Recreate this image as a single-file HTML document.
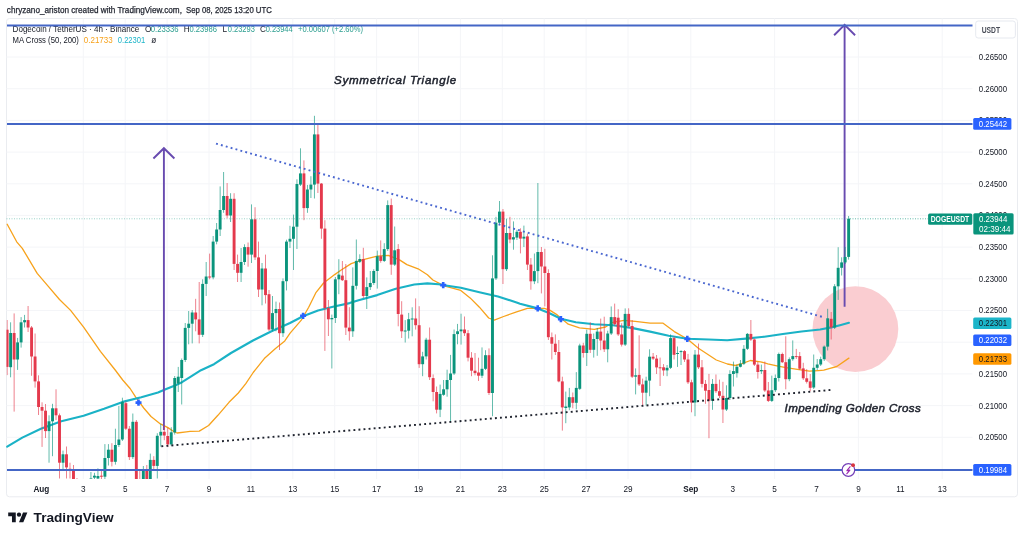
<!DOCTYPE html>
<html><head><meta charset="utf-8"><title>DOGEUSDT chart</title>
<style>
html,body{margin:0;padding:0;background:#fff;}
body{width:1024px;height:538px;overflow:hidden;}
svg{display:block;}
text{font-family:'Liberation Sans', Arial, sans-serif;}
</style></head><body>
<svg width="1024" height="538" viewBox="0 0 1024 538">
<rect x="0" y="0" width="1024" height="538" fill="#ffffff"/>

<text x="6.8" y="12.9" font-size="8.7" fill="#1e222d" stroke="#1e222d" stroke-width="0.25" lengthAdjust="spacingAndGlyphs" textLength="175.1">chryzano_ariston created with TradingView.com,</text>
<text x="186.0" y="12.9" font-size="8.7" fill="#1e222d" stroke="#1e222d" stroke-width="0.25" lengthAdjust="spacingAndGlyphs" textLength="85.8">Sep 08, 2025 13:20 UTC</text>
<rect x="6.5" y="18.5" width="1011" height="478.3" rx="3" fill="none" stroke="#eaecf0" stroke-width="1"/>
<defs><clipPath id="plot"><rect x="6.5" y="18.5" width="966.0" height="460.5"/></clipPath></defs>
<line x1="83.3" y1="18.5" x2="83.3" y2="479.0" stroke="#f4f5f8" stroke-width="1"/>
<line x1="125.2" y1="18.5" x2="125.2" y2="479.0" stroke="#f4f5f8" stroke-width="1"/>
<line x1="167.1" y1="18.5" x2="167.1" y2="479.0" stroke="#f4f5f8" stroke-width="1"/>
<line x1="209.0" y1="18.5" x2="209.0" y2="479.0" stroke="#f4f5f8" stroke-width="1"/>
<line x1="250.9" y1="18.5" x2="250.9" y2="479.0" stroke="#f4f5f8" stroke-width="1"/>
<line x1="292.8" y1="18.5" x2="292.8" y2="479.0" stroke="#f4f5f8" stroke-width="1"/>
<line x1="334.7" y1="18.5" x2="334.7" y2="479.0" stroke="#f4f5f8" stroke-width="1"/>
<line x1="376.6" y1="18.5" x2="376.6" y2="479.0" stroke="#f4f5f8" stroke-width="1"/>
<line x1="418.5" y1="18.5" x2="418.5" y2="479.0" stroke="#f4f5f8" stroke-width="1"/>
<line x1="460.4" y1="18.5" x2="460.4" y2="479.0" stroke="#f4f5f8" stroke-width="1"/>
<line x1="502.3" y1="18.5" x2="502.3" y2="479.0" stroke="#f4f5f8" stroke-width="1"/>
<line x1="544.2" y1="18.5" x2="544.2" y2="479.0" stroke="#f4f5f8" stroke-width="1"/>
<line x1="586.1" y1="18.5" x2="586.1" y2="479.0" stroke="#f4f5f8" stroke-width="1"/>
<line x1="628.0" y1="18.5" x2="628.0" y2="479.0" stroke="#f4f5f8" stroke-width="1"/>
<line x1="690.8" y1="18.5" x2="690.8" y2="479.0" stroke="#f4f5f8" stroke-width="1"/>
<line x1="774.6" y1="18.5" x2="774.6" y2="479.0" stroke="#f4f5f8" stroke-width="1"/>
<line x1="858.4" y1="18.5" x2="858.4" y2="479.0" stroke="#f4f5f8" stroke-width="1"/>
<line x1="942.2" y1="18.5" x2="942.2" y2="479.0" stroke="#f4f5f8" stroke-width="1"/>
<line x1="6.5" y1="437.3" x2="972.5" y2="437.3" stroke="#f4f5f8" stroke-width="1"/>
<line x1="6.5" y1="405.6" x2="972.5" y2="405.6" stroke="#f4f5f8" stroke-width="1"/>
<line x1="6.5" y1="373.9" x2="972.5" y2="373.9" stroke="#f4f5f8" stroke-width="1"/>
<line x1="6.5" y1="342.2" x2="972.5" y2="342.2" stroke="#f4f5f8" stroke-width="1"/>
<line x1="6.5" y1="310.5" x2="972.5" y2="310.5" stroke="#f4f5f8" stroke-width="1"/>
<line x1="6.5" y1="278.8" x2="972.5" y2="278.8" stroke="#f4f5f8" stroke-width="1"/>
<line x1="6.5" y1="247.1" x2="972.5" y2="247.1" stroke="#f4f5f8" stroke-width="1"/>
<line x1="6.5" y1="215.4" x2="972.5" y2="215.4" stroke="#f4f5f8" stroke-width="1"/>
<line x1="6.5" y1="183.8" x2="972.5" y2="183.8" stroke="#f4f5f8" stroke-width="1"/>
<line x1="6.5" y1="152.1" x2="972.5" y2="152.1" stroke="#f4f5f8" stroke-width="1"/>
<line x1="6.5" y1="120.4" x2="972.5" y2="120.4" stroke="#f4f5f8" stroke-width="1"/>
<line x1="6.5" y1="88.7" x2="972.5" y2="88.7" stroke="#f4f5f8" stroke-width="1"/>
<line x1="6.5" y1="57.0" x2="972.5" y2="57.0" stroke="#f4f5f8" stroke-width="1"/>
<circle cx="855.4" cy="329.1" r="42.9" fill="#facdd1"/>
<polyline points="7.2,224.3 16.7,241.8 22.3,248.3 37.2,273.4 48.3,286.4 59.5,299.5 70.6,310.4 83.6,327.2 100.4,351.3 115.2,370.0 122.7,380.0 130.1,388.5 135.7,397.2 143.7,408.0 151.0,416.5 160.4,423.9 167.9,427.6 174.4,432.0 177.1,433.0 186.4,431.8 190.0,431.3 199.3,431.1 208.6,425.5 217.9,415.3 229.0,402.3 238.3,393.0 245.8,383.7 253.2,372.5 264.3,358.6 275.5,348.4 284.8,340.9 290.1,333.2 301.3,320.2 308.7,307.2 316.1,292.3 323.6,283.0 334.7,274.6 341.2,270.0 351.2,263.6 362.3,259.9 377.2,256.2 388.3,255.3 399.5,259.9 406.9,264.6 418.1,268.8 427.4,274.8 432.9,280.0 444.1,285.8 460.8,290.4 470.1,297.9 479.4,307.2 488.7,318.0 494.3,320.2 503.6,316.5 516.6,311.8 527.4,308.4 544.2,308.4 549.7,310.1 557.2,314.9 568.3,324.2 579.5,327.9 594.3,329.4 605.5,327.0 612.9,322.3 624.1,320.4 635.2,321.4 650.1,323.2 663.1,323.2 674.3,331.6 687.3,339.0 698.4,348.3 704.9,352.5 716.3,360.0 727.4,364.0 735.3,365.5 742.0,363.7 750.4,360.5 760.6,361.8 767.8,363.8 776.9,365.8 786.0,367.7 799.0,369.7 809.4,371.2 818.5,370.6 823.8,370.2 830.0,368.4 836.8,366.5 848.9,358.1" fill="none" stroke="#f7a21b" stroke-width="1.3" stroke-linejoin="round" stroke-linecap="round"/>
<polyline points="7.2,446.7 22.3,437.6 40.9,428.7 61.3,421.3 83.6,415.7 104.1,408.8 122.7,401.9 141.3,397.2 158.0,392.5 165.0,389.6 175.0,385.6 182.0,382.2 190.0,377.2 201.0,370.2 214.0,364.2 231.0,353.0 253.0,340.5 271.5,331.3 290.0,323.0 303.0,316.3 318.0,310.5 333.0,306.8 349.6,303.1 358.6,300.2 377.2,295.1 395.8,288.8 414.3,284.5 427.4,283.4 438.5,284.3 444.1,285.2 460.8,287.7 479.4,292.3 498.0,296.5 516.6,302.5 520.0,303.7 537.7,308.4 549.0,313.0 560.9,318.8 575.8,322.3 594.3,324.2 612.9,325.3 631.5,327.9 650.1,331.6 668.7,335.7 687.3,338.8 708.6,339.5 727.2,340.2 745.8,338.6 764.3,336.7 782.9,334.0 801.5,331.5 820.1,329.5 831.3,327.4 840.0,325.2 848.9,322.8" fill="none" stroke="#1ab2c6" stroke-width="2.15" stroke-linejoin="round" stroke-linecap="round"/>
<path d="M135.5 402.6H141.5M138.5 399.5V405.7" stroke="#2962ff" stroke-width="2.6" fill="none"/>
<path d="M300.1 315.8H306.1M303.1 312.7V318.9" stroke="#2962ff" stroke-width="2.6" fill="none"/>
<path d="M440.2 285.1H446.2M443.2 282.0V288.2" stroke="#2962ff" stroke-width="2.6" fill="none"/>
<path d="M534.7 308.4H540.7M537.7 305.3V311.5" stroke="#2962ff" stroke-width="2.6" fill="none"/>
<path d="M557.9 319.2H563.9M560.9 316.1V322.3" stroke="#2962ff" stroke-width="2.6" fill="none"/>
<path d="M684.3 338.9H690.3M687.3 335.8V342.0" stroke="#2962ff" stroke-width="2.6" fill="none"/>
<path d="M163.9 430.0 V148.7 M153.4 158.5 L163.9 148.2 L174.4 158.5" stroke="#684bb0" stroke-width="1.9" fill="none" stroke-linejoin="miter"/>
<path d="M844.6 306.8 V25.4 M834.1 35.2 L844.6 24.9 L855.1 35.2" stroke="#684bb0" stroke-width="1.9" fill="none" stroke-linejoin="miter"/>
<g clip-path="url(#plot)">
<rect x="6.68" y="320.0" width="0.9" height="55.1" fill="#e4394c" fill-opacity="0.7"/>
<rect x="5.68" y="329.7" width="2.9" height="37.2" fill="#e4394c"/>
<rect x="10.17" y="322.3" width="0.9" height="55.0" fill="#0a947c" fill-opacity="0.7"/>
<rect x="9.17" y="333.0" width="2.9" height="34.2" fill="#0a947c"/>
<rect x="13.67" y="313.4" width="0.9" height="98.2" fill="#e4394c" fill-opacity="0.7"/>
<rect x="12.67" y="333.0" width="2.9" height="26.5" fill="#e4394c"/>
<rect x="17.16" y="337.9" width="0.9" height="32.0" fill="#0a947c" fill-opacity="0.7"/>
<rect x="16.16" y="342.4" width="2.9" height="17.1" fill="#0a947c"/>
<rect x="20.65" y="317.1" width="0.9" height="30.5" fill="#0a947c" fill-opacity="0.7"/>
<rect x="19.65" y="322.3" width="2.9" height="20.1" fill="#0a947c"/>
<rect x="24.14" y="314.9" width="0.9" height="12.6" fill="#0a947c" fill-opacity="0.7"/>
<rect x="23.14" y="320.1" width="2.9" height="2.2" fill="#0a947c"/>
<rect x="27.63" y="306.0" width="0.9" height="26.0" fill="#e4394c" fill-opacity="0.7"/>
<rect x="26.63" y="320.1" width="2.9" height="7.4" fill="#e4394c"/>
<rect x="31.12" y="326.0" width="0.9" height="49.8" fill="#e4394c" fill-opacity="0.7"/>
<rect x="30.12" y="327.5" width="2.9" height="29.0" fill="#e4394c"/>
<rect x="34.62" y="333.5" width="0.9" height="54.1" fill="#e4394c" fill-opacity="0.7"/>
<rect x="33.62" y="356.5" width="2.9" height="24.9" fill="#e4394c"/>
<rect x="38.11" y="375.3" width="0.9" height="39.7" fill="#e4394c" fill-opacity="0.7"/>
<rect x="37.11" y="381.4" width="2.9" height="25.6" fill="#e4394c"/>
<rect x="41.60" y="402.3" width="0.9" height="44.6" fill="#e4394c" fill-opacity="0.7"/>
<rect x="40.60" y="407.0" width="2.9" height="3.7" fill="#e4394c"/>
<rect x="45.09" y="404.0" width="0.9" height="34.0" fill="#e4394c" fill-opacity="0.7"/>
<rect x="44.09" y="410.7" width="2.9" height="20.4" fill="#e4394c"/>
<rect x="48.58" y="415.3" width="0.9" height="47.4" fill="#0a947c" fill-opacity="0.7"/>
<rect x="47.58" y="421.3" width="2.9" height="9.8" fill="#0a947c"/>
<rect x="52.08" y="403.8" width="0.9" height="52.4" fill="#0a947c" fill-opacity="0.7"/>
<rect x="51.08" y="408.3" width="2.9" height="13.0" fill="#0a947c"/>
<rect x="55.57" y="389.3" width="0.9" height="30.7" fill="#e4394c" fill-opacity="0.7"/>
<rect x="54.57" y="408.3" width="2.9" height="7.0" fill="#e4394c"/>
<rect x="59.06" y="413.5" width="0.9" height="65.0" fill="#e4394c" fill-opacity="0.7"/>
<rect x="58.06" y="415.3" width="2.9" height="47.4" fill="#e4394c"/>
<rect x="62.55" y="450.6" width="0.9" height="19.4" fill="#0a947c" fill-opacity="0.7"/>
<rect x="61.55" y="454.3" width="2.9" height="8.4" fill="#0a947c"/>
<rect x="66.04" y="446.5" width="0.9" height="32.0" fill="#e4394c" fill-opacity="0.7"/>
<rect x="65.04" y="454.3" width="2.9" height="13.1" fill="#e4394c"/>
<rect x="69.53" y="462.7" width="0.9" height="15.8" fill="#e4394c" fill-opacity="0.7"/>
<rect x="68.53" y="468.8" width="2.9" height="2.2" fill="#e4394c"/>
<rect x="73.03" y="465.0" width="0.9" height="25.0" fill="#e4394c" fill-opacity="0.7"/>
<rect x="72.03" y="470.1" width="2.9" height="14.9" fill="#e4394c"/>
<rect x="76.52" y="478.0" width="0.9" height="22.0" fill="#e4394c" fill-opacity="0.7"/>
<rect x="75.52" y="485.0" width="2.9" height="10.0" fill="#e4394c"/>
<rect x="80.01" y="482.0" width="0.9" height="18.0" fill="#0a947c" fill-opacity="0.7"/>
<rect x="79.01" y="488.0" width="2.9" height="7.0" fill="#0a947c"/>
<rect x="83.50" y="484.0" width="0.9" height="21.0" fill="#e4394c" fill-opacity="0.7"/>
<rect x="82.50" y="488.0" width="2.9" height="10.0" fill="#e4394c"/>
<rect x="86.99" y="481.0" width="0.9" height="24.0" fill="#0a947c" fill-opacity="0.7"/>
<rect x="85.99" y="485.0" width="2.9" height="13.0" fill="#0a947c"/>
<rect x="90.48" y="472.0" width="0.9" height="18.0" fill="#0a947c" fill-opacity="0.7"/>
<rect x="89.48" y="478.5" width="2.9" height="6.5" fill="#0a947c"/>
<rect x="93.98" y="472.8" width="0.9" height="7.2" fill="#0a947c" fill-opacity="0.7"/>
<rect x="92.98" y="475.7" width="2.9" height="1.9" fill="#0a947c"/>
<rect x="97.47" y="468.3" width="0.9" height="11.7" fill="#0a947c" fill-opacity="0.7"/>
<rect x="96.47" y="476.0" width="2.9" height="2.5" fill="#0a947c"/>
<rect x="100.96" y="469.2" width="0.9" height="10.8" fill="#e4394c" fill-opacity="0.7"/>
<rect x="99.96" y="475.7" width="2.9" height="1.0" fill="#e4394c"/>
<rect x="104.45" y="444.1" width="0.9" height="35.9" fill="#0a947c" fill-opacity="0.7"/>
<rect x="103.45" y="458.0" width="2.9" height="18.7" fill="#0a947c"/>
<rect x="107.94" y="444.1" width="0.9" height="21.4" fill="#0a947c" fill-opacity="0.7"/>
<rect x="106.94" y="449.7" width="2.9" height="8.3" fill="#0a947c"/>
<rect x="111.43" y="443.2" width="0.9" height="23.2" fill="#e4394c" fill-opacity="0.7"/>
<rect x="110.43" y="449.7" width="2.9" height="12.1" fill="#e4394c"/>
<rect x="114.93" y="428.7" width="0.9" height="35.9" fill="#0a947c" fill-opacity="0.7"/>
<rect x="113.93" y="445.0" width="2.9" height="16.8" fill="#0a947c"/>
<rect x="118.42" y="406.0" width="0.9" height="41.0" fill="#0a947c" fill-opacity="0.7"/>
<rect x="117.42" y="439.5" width="2.9" height="5.5" fill="#0a947c"/>
<rect x="121.91" y="397.7" width="0.9" height="43.3" fill="#0a947c" fill-opacity="0.7"/>
<rect x="120.91" y="401.9" width="2.9" height="37.6" fill="#0a947c"/>
<rect x="125.40" y="401.4" width="0.9" height="28.6" fill="#e4394c" fill-opacity="0.7"/>
<rect x="124.40" y="403.2" width="2.9" height="25.5" fill="#e4394c"/>
<rect x="128.89" y="426.0" width="0.9" height="34.0" fill="#e4394c" fill-opacity="0.7"/>
<rect x="127.89" y="428.7" width="2.9" height="28.4" fill="#e4394c"/>
<rect x="132.38" y="413.5" width="0.9" height="45.5" fill="#0a947c" fill-opacity="0.7"/>
<rect x="131.38" y="421.8" width="2.9" height="35.3" fill="#0a947c"/>
<rect x="135.88" y="420.0" width="0.9" height="70.0" fill="#e4394c" fill-opacity="0.7"/>
<rect x="134.88" y="421.8" width="2.9" height="60.2" fill="#e4394c"/>
<rect x="139.37" y="469.2" width="0.9" height="25.8" fill="#e4394c" fill-opacity="0.7"/>
<rect x="138.37" y="482.0" width="2.9" height="8.0" fill="#e4394c"/>
<rect x="142.86" y="466.0" width="0.9" height="19.0" fill="#0a947c" fill-opacity="0.7"/>
<rect x="141.86" y="469.2" width="2.9" height="12.8" fill="#0a947c"/>
<rect x="146.35" y="465.0" width="0.9" height="20.0" fill="#e4394c" fill-opacity="0.7"/>
<rect x="145.35" y="470.1" width="2.9" height="9.9" fill="#e4394c"/>
<rect x="149.84" y="453.6" width="0.9" height="28.4" fill="#0a947c" fill-opacity="0.7"/>
<rect x="148.84" y="459.9" width="2.9" height="20.1" fill="#0a947c"/>
<rect x="153.33" y="456.2" width="0.9" height="13.8" fill="#e4394c" fill-opacity="0.7"/>
<rect x="152.33" y="459.9" width="2.9" height="6.0" fill="#e4394c"/>
<rect x="156.83" y="433.2" width="0.9" height="45.3" fill="#0a947c" fill-opacity="0.7"/>
<rect x="155.83" y="435.8" width="2.9" height="30.1" fill="#0a947c"/>
<rect x="160.32" y="423.9" width="0.9" height="22.8" fill="#0a947c" fill-opacity="0.7"/>
<rect x="159.32" y="431.8" width="2.9" height="3.7" fill="#0a947c"/>
<rect x="163.81" y="425.8" width="0.9" height="14.4" fill="#e4394c" fill-opacity="0.7"/>
<rect x="162.81" y="431.8" width="2.9" height="3.7" fill="#e4394c"/>
<rect x="167.30" y="427.6" width="0.9" height="19.5" fill="#e4394c" fill-opacity="0.7"/>
<rect x="166.30" y="436.0" width="2.9" height="8.4" fill="#e4394c"/>
<rect x="170.79" y="427.2" width="0.9" height="18.8" fill="#0a947c" fill-opacity="0.7"/>
<rect x="169.79" y="432.3" width="2.9" height="12.1" fill="#0a947c"/>
<rect x="174.28" y="376.0" width="0.9" height="58.6" fill="#0a947c" fill-opacity="0.7"/>
<rect x="173.28" y="378.0" width="2.9" height="54.4" fill="#0a947c"/>
<rect x="177.78" y="366.9" width="0.9" height="25.1" fill="#0a947c" fill-opacity="0.7"/>
<rect x="176.78" y="376.7" width="2.9" height="6.9" fill="#0a947c"/>
<rect x="181.27" y="358.5" width="0.9" height="46.0" fill="#0a947c" fill-opacity="0.7"/>
<rect x="180.27" y="360.0" width="2.9" height="18.0" fill="#0a947c"/>
<rect x="184.76" y="323.0" width="0.9" height="39.0" fill="#0a947c" fill-opacity="0.7"/>
<rect x="183.76" y="327.9" width="2.9" height="32.1" fill="#0a947c"/>
<rect x="188.25" y="311.0" width="0.9" height="33.3" fill="#0a947c" fill-opacity="0.7"/>
<rect x="187.25" y="323.7" width="2.9" height="4.2" fill="#0a947c"/>
<rect x="191.74" y="310.0" width="0.9" height="33.4" fill="#0a947c" fill-opacity="0.7"/>
<rect x="190.74" y="312.5" width="2.9" height="11.2" fill="#0a947c"/>
<rect x="195.23" y="298.8" width="0.9" height="32.5" fill="#e4394c" fill-opacity="0.7"/>
<rect x="194.23" y="312.5" width="2.9" height="6.9" fill="#e4394c"/>
<rect x="198.73" y="282.0" width="0.9" height="61.4" fill="#e4394c" fill-opacity="0.7"/>
<rect x="197.73" y="319.4" width="2.9" height="15.4" fill="#e4394c"/>
<rect x="202.22" y="279.3" width="0.9" height="57.7" fill="#0a947c" fill-opacity="0.7"/>
<rect x="201.22" y="283.9" width="2.9" height="50.9" fill="#0a947c"/>
<rect x="205.71" y="262.0" width="0.9" height="34.0" fill="#0a947c" fill-opacity="0.7"/>
<rect x="204.71" y="276.5" width="2.9" height="7.4" fill="#0a947c"/>
<rect x="209.20" y="253.6" width="0.9" height="25.7" fill="#e4394c" fill-opacity="0.7"/>
<rect x="208.20" y="276.5" width="2.9" height="1.0" fill="#e4394c"/>
<rect x="212.69" y="236.0" width="0.9" height="43.3" fill="#0a947c" fill-opacity="0.7"/>
<rect x="211.69" y="241.6" width="2.9" height="35.8" fill="#0a947c"/>
<rect x="216.19" y="223.0" width="0.9" height="21.3" fill="#0a947c" fill-opacity="0.7"/>
<rect x="215.19" y="229.5" width="2.9" height="12.1" fill="#0a947c"/>
<rect x="219.68" y="186.4" width="0.9" height="49.6" fill="#0a947c" fill-opacity="0.7"/>
<rect x="218.68" y="210.0" width="2.9" height="19.5" fill="#0a947c"/>
<rect x="223.17" y="172.0" width="0.9" height="40.8" fill="#0a947c" fill-opacity="0.7"/>
<rect x="222.17" y="196.0" width="2.9" height="14.0" fill="#0a947c"/>
<rect x="226.66" y="183.0" width="0.9" height="35.3" fill="#e4394c" fill-opacity="0.7"/>
<rect x="225.66" y="196.0" width="2.9" height="19.5" fill="#e4394c"/>
<rect x="230.15" y="193.2" width="0.9" height="28.8" fill="#0a947c" fill-opacity="0.7"/>
<rect x="229.15" y="198.8" width="2.9" height="16.7" fill="#0a947c"/>
<rect x="233.64" y="193.2" width="0.9" height="76.8" fill="#e4394c" fill-opacity="0.7"/>
<rect x="232.64" y="198.8" width="2.9" height="65.1" fill="#e4394c"/>
<rect x="237.14" y="254.6" width="0.9" height="27.4" fill="#e4394c" fill-opacity="0.7"/>
<rect x="236.14" y="263.9" width="2.9" height="8.9" fill="#e4394c"/>
<rect x="240.63" y="248.0" width="0.9" height="34.0" fill="#0a947c" fill-opacity="0.7"/>
<rect x="239.63" y="262.0" width="2.9" height="10.8" fill="#0a947c"/>
<rect x="244.12" y="244.3" width="0.9" height="20.7" fill="#0a947c" fill-opacity="0.7"/>
<rect x="243.12" y="247.1" width="2.9" height="14.9" fill="#0a947c"/>
<rect x="247.61" y="242.5" width="0.9" height="24.2" fill="#e4394c" fill-opacity="0.7"/>
<rect x="246.61" y="247.1" width="2.9" height="7.5" fill="#e4394c"/>
<rect x="251.10" y="204.4" width="0.9" height="58.6" fill="#0a947c" fill-opacity="0.7"/>
<rect x="250.10" y="219.3" width="2.9" height="35.3" fill="#0a947c"/>
<rect x="254.59" y="207.2" width="0.9" height="52.8" fill="#e4394c" fill-opacity="0.7"/>
<rect x="253.59" y="219.3" width="2.9" height="38.1" fill="#e4394c"/>
<rect x="258.09" y="241.6" width="0.9" height="55.4" fill="#e4394c" fill-opacity="0.7"/>
<rect x="257.09" y="257.4" width="2.9" height="32.1" fill="#e4394c"/>
<rect x="261.58" y="263.0" width="0.9" height="42.3" fill="#0a947c" fill-opacity="0.7"/>
<rect x="260.58" y="268.5" width="2.9" height="21.0" fill="#0a947c"/>
<rect x="265.07" y="254.6" width="0.9" height="48.9" fill="#e4394c" fill-opacity="0.7"/>
<rect x="264.07" y="268.5" width="2.9" height="26.6" fill="#e4394c"/>
<rect x="268.56" y="290.0" width="0.9" height="41.0" fill="#e4394c" fill-opacity="0.7"/>
<rect x="267.56" y="294.2" width="2.9" height="35.3" fill="#e4394c"/>
<rect x="272.05" y="296.0" width="0.9" height="35.3" fill="#0a947c" fill-opacity="0.7"/>
<rect x="271.05" y="313.1" width="2.9" height="16.4" fill="#0a947c"/>
<rect x="275.54" y="301.6" width="0.9" height="29.7" fill="#0a947c" fill-opacity="0.7"/>
<rect x="274.54" y="309.0" width="2.9" height="4.1" fill="#0a947c"/>
<rect x="279.04" y="302.5" width="0.9" height="47.5" fill="#e4394c" fill-opacity="0.7"/>
<rect x="278.04" y="309.0" width="2.9" height="24.2" fill="#e4394c"/>
<rect x="282.53" y="278.4" width="0.9" height="58.5" fill="#0a947c" fill-opacity="0.7"/>
<rect x="281.53" y="281.2" width="2.9" height="52.0" fill="#0a947c"/>
<rect x="286.02" y="239.7" width="0.9" height="50.7" fill="#0a947c" fill-opacity="0.7"/>
<rect x="285.02" y="241.6" width="2.9" height="39.6" fill="#0a947c"/>
<rect x="289.51" y="225.8" width="0.9" height="22.2" fill="#0a947c" fill-opacity="0.7"/>
<rect x="288.51" y="238.8" width="2.9" height="2.8" fill="#0a947c"/>
<rect x="293.00" y="214.6" width="0.9" height="55.4" fill="#0a947c" fill-opacity="0.7"/>
<rect x="292.00" y="226.7" width="2.9" height="12.1" fill="#0a947c"/>
<rect x="296.49" y="179.3" width="0.9" height="69.7" fill="#0a947c" fill-opacity="0.7"/>
<rect x="295.49" y="184.0" width="2.9" height="42.7" fill="#0a947c"/>
<rect x="299.99" y="148.3" width="0.9" height="37.7" fill="#0a947c" fill-opacity="0.7"/>
<rect x="298.99" y="173.4" width="2.9" height="11.2" fill="#0a947c"/>
<rect x="303.48" y="160.4" width="0.9" height="59.8" fill="#e4394c" fill-opacity="0.7"/>
<rect x="302.48" y="173.4" width="2.9" height="34.7" fill="#e4394c"/>
<rect x="306.97" y="184.9" width="0.9" height="27.9" fill="#0a947c" fill-opacity="0.7"/>
<rect x="305.97" y="189.5" width="2.9" height="18.6" fill="#0a947c"/>
<rect x="310.46" y="176.2" width="0.9" height="21.8" fill="#0a947c" fill-opacity="0.7"/>
<rect x="309.46" y="184.6" width="2.9" height="4.9" fill="#0a947c"/>
<rect x="313.95" y="115.8" width="0.9" height="82.7" fill="#0a947c" fill-opacity="0.7"/>
<rect x="312.95" y="134.4" width="2.9" height="50.2" fill="#0a947c"/>
<rect x="317.44" y="123.2" width="0.9" height="69.8" fill="#e4394c" fill-opacity="0.7"/>
<rect x="316.44" y="134.4" width="2.9" height="49.2" fill="#e4394c"/>
<rect x="320.94" y="183.0" width="0.9" height="55.8" fill="#e4394c" fill-opacity="0.7"/>
<rect x="319.94" y="183.6" width="2.9" height="45.0" fill="#e4394c"/>
<rect x="324.43" y="220.2" width="0.9" height="130.7" fill="#e4394c" fill-opacity="0.7"/>
<rect x="323.43" y="228.6" width="2.9" height="79.5" fill="#e4394c"/>
<rect x="327.92" y="300.0" width="0.9" height="36.0" fill="#e4394c" fill-opacity="0.7"/>
<rect x="326.92" y="308.1" width="2.9" height="11.2" fill="#e4394c"/>
<rect x="331.41" y="314.6" width="0.9" height="53.9" fill="#0a947c" fill-opacity="0.7"/>
<rect x="330.41" y="318.0" width="2.9" height="1.3" fill="#0a947c"/>
<rect x="334.90" y="277.0" width="0.9" height="46.0" fill="#0a947c" fill-opacity="0.7"/>
<rect x="333.90" y="279.3" width="2.9" height="38.7" fill="#0a947c"/>
<rect x="338.39" y="259.2" width="0.9" height="35.0" fill="#0a947c" fill-opacity="0.7"/>
<rect x="337.39" y="274.6" width="2.9" height="4.7" fill="#0a947c"/>
<rect x="341.89" y="261.0" width="0.9" height="20.0" fill="#e4394c" fill-opacity="0.7"/>
<rect x="340.89" y="275.6" width="2.9" height="4.6" fill="#e4394c"/>
<rect x="345.38" y="264.0" width="0.9" height="71.0" fill="#e4394c" fill-opacity="0.7"/>
<rect x="344.38" y="280.2" width="2.9" height="47.4" fill="#e4394c"/>
<rect x="348.87" y="307.2" width="0.9" height="33.4" fill="#e4394c" fill-opacity="0.7"/>
<rect x="347.87" y="327.6" width="2.9" height="3.7" fill="#e4394c"/>
<rect x="352.36" y="267.4" width="0.9" height="69.5" fill="#0a947c" fill-opacity="0.7"/>
<rect x="351.36" y="285.8" width="2.9" height="45.5" fill="#0a947c"/>
<rect x="355.85" y="239.5" width="0.9" height="50.0" fill="#0a947c" fill-opacity="0.7"/>
<rect x="354.85" y="260.9" width="2.9" height="24.9" fill="#0a947c"/>
<rect x="359.34" y="254.3" width="0.9" height="8.7" fill="#0a947c" fill-opacity="0.7"/>
<rect x="358.34" y="259.0" width="2.9" height="2.8" fill="#0a947c"/>
<rect x="362.84" y="247.8" width="0.9" height="50.2" fill="#e4394c" fill-opacity="0.7"/>
<rect x="361.84" y="259.0" width="2.9" height="37.0" fill="#e4394c"/>
<rect x="366.33" y="277.4" width="0.9" height="31.6" fill="#0a947c" fill-opacity="0.7"/>
<rect x="365.33" y="287.1" width="2.9" height="8.9" fill="#0a947c"/>
<rect x="369.82" y="271.0" width="0.9" height="19.0" fill="#0a947c" fill-opacity="0.7"/>
<rect x="368.82" y="283.0" width="2.9" height="4.1" fill="#0a947c"/>
<rect x="373.31" y="269.2" width="0.9" height="15.7" fill="#0a947c" fill-opacity="0.7"/>
<rect x="372.31" y="271.0" width="2.9" height="12.0" fill="#0a947c"/>
<rect x="376.80" y="250.6" width="0.9" height="38.0" fill="#0a947c" fill-opacity="0.7"/>
<rect x="375.80" y="256.2" width="2.9" height="14.8" fill="#0a947c"/>
<rect x="380.29" y="240.4" width="0.9" height="22.3" fill="#e4394c" fill-opacity="0.7"/>
<rect x="379.29" y="256.2" width="2.9" height="4.7" fill="#e4394c"/>
<rect x="383.79" y="243.2" width="0.9" height="18.8" fill="#0a947c" fill-opacity="0.7"/>
<rect x="382.79" y="249.1" width="2.9" height="11.8" fill="#0a947c"/>
<rect x="387.28" y="200.4" width="0.9" height="50.6" fill="#0a947c" fill-opacity="0.7"/>
<rect x="386.28" y="205.1" width="2.9" height="44.0" fill="#0a947c"/>
<rect x="390.77" y="198.6" width="0.9" height="76.2" fill="#e4394c" fill-opacity="0.7"/>
<rect x="389.77" y="205.1" width="2.9" height="59.5" fill="#e4394c"/>
<rect x="394.26" y="226.5" width="0.9" height="39.5" fill="#0a947c" fill-opacity="0.7"/>
<rect x="393.26" y="250.3" width="2.9" height="14.3" fill="#0a947c"/>
<rect x="397.75" y="244.1" width="0.9" height="82.2" fill="#e4394c" fill-opacity="0.7"/>
<rect x="396.75" y="249.1" width="2.9" height="64.9" fill="#e4394c"/>
<rect x="401.25" y="301.2" width="0.9" height="36.8" fill="#e4394c" fill-opacity="0.7"/>
<rect x="400.25" y="314.6" width="2.9" height="16.7" fill="#e4394c"/>
<rect x="404.74" y="320.1" width="0.9" height="22.4" fill="#0a947c" fill-opacity="0.7"/>
<rect x="403.74" y="330.5" width="2.9" height="1.0" fill="#0a947c"/>
<rect x="408.23" y="312.9" width="0.9" height="25.6" fill="#0a947c" fill-opacity="0.7"/>
<rect x="407.23" y="319.2" width="2.9" height="11.5" fill="#0a947c"/>
<rect x="411.72" y="307.3" width="0.9" height="29.0" fill="#0a947c" fill-opacity="0.7"/>
<rect x="410.72" y="318.5" width="2.9" height="1.0" fill="#0a947c"/>
<rect x="415.21" y="298.4" width="0.9" height="31.2" fill="#e4394c" fill-opacity="0.7"/>
<rect x="414.21" y="318.5" width="2.9" height="6.7" fill="#e4394c"/>
<rect x="418.70" y="306.2" width="0.9" height="61.7" fill="#e4394c" fill-opacity="0.7"/>
<rect x="417.70" y="325.2" width="2.9" height="39.0" fill="#e4394c"/>
<rect x="422.20" y="351.8" width="0.9" height="24.4" fill="#0a947c" fill-opacity="0.7"/>
<rect x="421.20" y="356.4" width="2.9" height="7.8" fill="#0a947c"/>
<rect x="425.69" y="337.8" width="0.9" height="21.7" fill="#0a947c" fill-opacity="0.7"/>
<rect x="424.69" y="339.7" width="2.9" height="16.7" fill="#0a947c"/>
<rect x="429.18" y="327.5" width="0.9" height="52.5" fill="#e4394c" fill-opacity="0.7"/>
<rect x="428.18" y="339.7" width="2.9" height="37.5" fill="#e4394c"/>
<rect x="432.67" y="374.4" width="0.9" height="26.9" fill="#e4394c" fill-opacity="0.7"/>
<rect x="431.67" y="378.1" width="2.9" height="13.9" fill="#e4394c"/>
<rect x="436.16" y="386.5" width="0.9" height="26.9" fill="#e4394c" fill-opacity="0.7"/>
<rect x="435.16" y="392.0" width="2.9" height="17.7" fill="#e4394c"/>
<rect x="439.65" y="384.6" width="0.9" height="32.5" fill="#0a947c" fill-opacity="0.7"/>
<rect x="438.65" y="393.9" width="2.9" height="15.8" fill="#0a947c"/>
<rect x="443.15" y="380.0" width="0.9" height="15.8" fill="#0a947c" fill-opacity="0.7"/>
<rect x="442.15" y="389.3" width="2.9" height="5.5" fill="#0a947c"/>
<rect x="446.64" y="369.7" width="0.9" height="27.0" fill="#0a947c" fill-opacity="0.7"/>
<rect x="445.64" y="380.0" width="2.9" height="9.3" fill="#0a947c"/>
<rect x="450.13" y="354.9" width="0.9" height="66.9" fill="#0a947c" fill-opacity="0.7"/>
<rect x="449.13" y="373.5" width="2.9" height="6.5" fill="#0a947c"/>
<rect x="453.62" y="329.5" width="0.9" height="45.5" fill="#0a947c" fill-opacity="0.7"/>
<rect x="452.62" y="334.1" width="2.9" height="39.4" fill="#0a947c"/>
<rect x="457.11" y="323.9" width="0.9" height="20.4" fill="#0a947c" fill-opacity="0.7"/>
<rect x="456.11" y="331.3" width="2.9" height="2.8" fill="#0a947c"/>
<rect x="460.60" y="313.7" width="0.9" height="30.9" fill="#0a947c" fill-opacity="0.7"/>
<rect x="459.60" y="329.5" width="2.9" height="1.8" fill="#0a947c"/>
<rect x="464.10" y="316.5" width="0.9" height="19.5" fill="#e4394c" fill-opacity="0.7"/>
<rect x="463.10" y="329.5" width="2.9" height="3.7" fill="#e4394c"/>
<rect x="467.59" y="330.0" width="0.9" height="31.4" fill="#e4394c" fill-opacity="0.7"/>
<rect x="466.59" y="333.2" width="2.9" height="24.5" fill="#e4394c"/>
<rect x="471.08" y="352.1" width="0.9" height="24.1" fill="#e4394c" fill-opacity="0.7"/>
<rect x="470.08" y="357.7" width="2.9" height="13.0" fill="#e4394c"/>
<rect x="474.57" y="353.0" width="0.9" height="22.3" fill="#e4394c" fill-opacity="0.7"/>
<rect x="473.57" y="370.7" width="2.9" height="2.4" fill="#e4394c"/>
<rect x="478.06" y="357.7" width="0.9" height="23.2" fill="#e4394c" fill-opacity="0.7"/>
<rect x="477.06" y="372.5" width="2.9" height="3.2" fill="#e4394c"/>
<rect x="481.55" y="347.4" width="0.9" height="30.6" fill="#0a947c" fill-opacity="0.7"/>
<rect x="480.55" y="368.8" width="2.9" height="6.9" fill="#0a947c"/>
<rect x="485.05" y="350.2" width="0.9" height="19.8" fill="#0a947c" fill-opacity="0.7"/>
<rect x="484.05" y="355.2" width="2.9" height="13.6" fill="#0a947c"/>
<rect x="488.54" y="348.4" width="0.9" height="46.6" fill="#e4394c" fill-opacity="0.7"/>
<rect x="487.54" y="355.2" width="2.9" height="37.8" fill="#e4394c"/>
<rect x="492.03" y="255.3" width="0.9" height="160.9" fill="#0a947c" fill-opacity="0.7"/>
<rect x="491.03" y="278.4" width="2.9" height="114.6" fill="#0a947c"/>
<rect x="495.52" y="216.8" width="0.9" height="63.2" fill="#0a947c" fill-opacity="0.7"/>
<rect x="494.52" y="222.7" width="2.9" height="55.7" fill="#0a947c"/>
<rect x="499.01" y="201.0" width="0.9" height="23.0" fill="#0a947c" fill-opacity="0.7"/>
<rect x="498.01" y="211.6" width="2.9" height="11.1" fill="#0a947c"/>
<rect x="502.50" y="209.0" width="0.9" height="75.0" fill="#e4394c" fill-opacity="0.7"/>
<rect x="501.50" y="211.6" width="2.9" height="57.6" fill="#e4394c"/>
<rect x="506.00" y="218.8" width="0.9" height="52.2" fill="#0a947c" fill-opacity="0.7"/>
<rect x="505.00" y="233.0" width="2.9" height="36.2" fill="#0a947c"/>
<rect x="509.49" y="216.8" width="0.9" height="26.4" fill="#e4394c" fill-opacity="0.7"/>
<rect x="508.49" y="233.0" width="2.9" height="6.5" fill="#e4394c"/>
<rect x="512.98" y="221.4" width="0.9" height="28.3" fill="#0a947c" fill-opacity="0.7"/>
<rect x="511.98" y="237.2" width="2.9" height="2.3" fill="#0a947c"/>
<rect x="516.47" y="229.8" width="0.9" height="10.2" fill="#0a947c" fill-opacity="0.7"/>
<rect x="515.47" y="231.8" width="2.9" height="5.8" fill="#0a947c"/>
<rect x="519.96" y="228.3" width="0.9" height="25.1" fill="#e4394c" fill-opacity="0.7"/>
<rect x="518.96" y="231.8" width="2.9" height="6.8" fill="#e4394c"/>
<rect x="523.45" y="225.6" width="0.9" height="21.4" fill="#0a947c" fill-opacity="0.7"/>
<rect x="522.45" y="236.7" width="2.9" height="1.9" fill="#0a947c"/>
<rect x="526.95" y="233.7" width="0.9" height="36.3" fill="#e4394c" fill-opacity="0.7"/>
<rect x="525.95" y="236.4" width="2.9" height="28.2" fill="#e4394c"/>
<rect x="530.44" y="258.1" width="0.9" height="31.6" fill="#e4394c" fill-opacity="0.7"/>
<rect x="529.44" y="264.6" width="2.9" height="16.7" fill="#e4394c"/>
<rect x="533.93" y="253.5" width="0.9" height="30.6" fill="#0a947c" fill-opacity="0.7"/>
<rect x="532.93" y="271.1" width="2.9" height="10.2" fill="#0a947c"/>
<rect x="537.42" y="183.0" width="0.9" height="100.2" fill="#0a947c" fill-opacity="0.7"/>
<rect x="536.42" y="252.0" width="2.9" height="19.1" fill="#0a947c"/>
<rect x="540.91" y="247.0" width="0.9" height="46.4" fill="#e4394c" fill-opacity="0.7"/>
<rect x="539.91" y="252.0" width="2.9" height="14.5" fill="#e4394c"/>
<rect x="544.40" y="248.8" width="0.9" height="57.6" fill="#e4394c" fill-opacity="0.7"/>
<rect x="543.40" y="266.5" width="2.9" height="6.5" fill="#e4394c"/>
<rect x="547.90" y="269.3" width="0.9" height="70.7" fill="#e4394c" fill-opacity="0.7"/>
<rect x="546.90" y="273.0" width="2.9" height="64.2" fill="#e4394c"/>
<rect x="551.39" y="332.5" width="0.9" height="27.0" fill="#e4394c" fill-opacity="0.7"/>
<rect x="550.39" y="337.2" width="2.9" height="6.5" fill="#e4394c"/>
<rect x="554.88" y="334.4" width="0.9" height="20.6" fill="#e4394c" fill-opacity="0.7"/>
<rect x="553.88" y="343.7" width="2.9" height="8.3" fill="#e4394c"/>
<rect x="558.37" y="340.0" width="0.9" height="42.3" fill="#e4394c" fill-opacity="0.7"/>
<rect x="557.37" y="352.0" width="2.9" height="29.4" fill="#e4394c"/>
<rect x="561.86" y="376.7" width="0.9" height="53.9" fill="#e4394c" fill-opacity="0.7"/>
<rect x="560.86" y="381.4" width="2.9" height="26.0" fill="#e4394c"/>
<rect x="565.35" y="391.6" width="0.9" height="31.6" fill="#0a947c" fill-opacity="0.7"/>
<rect x="564.35" y="406.5" width="2.9" height="1.5" fill="#0a947c"/>
<rect x="568.85" y="387.9" width="0.9" height="22.3" fill="#0a947c" fill-opacity="0.7"/>
<rect x="567.85" y="397.2" width="2.9" height="10.2" fill="#0a947c"/>
<rect x="572.34" y="392.5" width="0.9" height="15.8" fill="#e4394c" fill-opacity="0.7"/>
<rect x="571.34" y="397.2" width="2.9" height="5.6" fill="#e4394c"/>
<rect x="575.83" y="372.1" width="0.9" height="37.2" fill="#0a947c" fill-opacity="0.7"/>
<rect x="574.83" y="387.9" width="2.9" height="14.9" fill="#0a947c"/>
<rect x="579.32" y="343.7" width="0.9" height="46.3" fill="#0a947c" fill-opacity="0.7"/>
<rect x="578.32" y="345.5" width="2.9" height="43.3" fill="#0a947c"/>
<rect x="582.81" y="342.8" width="0.9" height="14.8" fill="#e4394c" fill-opacity="0.7"/>
<rect x="581.81" y="345.5" width="2.9" height="7.5" fill="#e4394c"/>
<rect x="586.31" y="329.7" width="0.9" height="36.3" fill="#0a947c" fill-opacity="0.7"/>
<rect x="585.31" y="333.8" width="2.9" height="19.2" fill="#0a947c"/>
<rect x="589.80" y="322.3" width="0.9" height="30.7" fill="#e4394c" fill-opacity="0.7"/>
<rect x="588.80" y="333.8" width="2.9" height="16.0" fill="#e4394c"/>
<rect x="593.29" y="333.5" width="0.9" height="24.1" fill="#0a947c" fill-opacity="0.7"/>
<rect x="592.29" y="339.0" width="2.9" height="10.8" fill="#0a947c"/>
<rect x="596.78" y="327.9" width="0.9" height="27.9" fill="#0a947c" fill-opacity="0.7"/>
<rect x="595.78" y="331.6" width="2.9" height="7.4" fill="#0a947c"/>
<rect x="600.27" y="318.6" width="0.9" height="31.6" fill="#e4394c" fill-opacity="0.7"/>
<rect x="599.27" y="331.6" width="2.9" height="8.9" fill="#e4394c"/>
<rect x="603.76" y="316.7" width="0.9" height="35.3" fill="#e4394c" fill-opacity="0.7"/>
<rect x="602.76" y="340.5" width="2.9" height="8.8" fill="#e4394c"/>
<rect x="607.26" y="330.7" width="0.9" height="31.6" fill="#0a947c" fill-opacity="0.7"/>
<rect x="606.26" y="333.5" width="2.9" height="15.8" fill="#0a947c"/>
<rect x="610.75" y="306.4" width="0.9" height="28.6" fill="#0a947c" fill-opacity="0.7"/>
<rect x="609.75" y="317.1" width="2.9" height="16.4" fill="#0a947c"/>
<rect x="614.24" y="303.6" width="0.9" height="22.4" fill="#e4394c" fill-opacity="0.7"/>
<rect x="613.24" y="317.1" width="2.9" height="7.1" fill="#e4394c"/>
<rect x="617.73" y="309.2" width="0.9" height="26.8" fill="#e4394c" fill-opacity="0.7"/>
<rect x="616.73" y="317.7" width="2.9" height="16.7" fill="#e4394c"/>
<rect x="621.22" y="323.2" width="0.9" height="23.3" fill="#e4394c" fill-opacity="0.7"/>
<rect x="620.22" y="334.4" width="2.9" height="10.2" fill="#e4394c"/>
<rect x="624.71" y="308.4" width="0.9" height="37.6" fill="#0a947c" fill-opacity="0.7"/>
<rect x="623.71" y="313.9" width="2.9" height="30.7" fill="#0a947c"/>
<rect x="628.21" y="308.3" width="0.9" height="19.7" fill="#e4394c" fill-opacity="0.7"/>
<rect x="627.21" y="313.9" width="2.9" height="12.1" fill="#e4394c"/>
<rect x="631.70" y="320.0" width="0.9" height="58.0" fill="#e4394c" fill-opacity="0.7"/>
<rect x="630.70" y="326.0" width="2.9" height="50.7" fill="#e4394c"/>
<rect x="635.19" y="368.4" width="0.9" height="26.0" fill="#0a947c" fill-opacity="0.7"/>
<rect x="634.19" y="375.3" width="2.9" height="1.4" fill="#0a947c"/>
<rect x="638.68" y="335.3" width="0.9" height="50.7" fill="#e4394c" fill-opacity="0.7"/>
<rect x="637.68" y="374.9" width="2.9" height="9.5" fill="#e4394c"/>
<rect x="642.17" y="378.6" width="0.9" height="26.9" fill="#e4394c" fill-opacity="0.7"/>
<rect x="641.17" y="384.4" width="2.9" height="8.3" fill="#e4394c"/>
<rect x="645.66" y="376.7" width="0.9" height="28.8" fill="#0a947c" fill-opacity="0.7"/>
<rect x="644.66" y="380.6" width="2.9" height="12.1" fill="#0a947c"/>
<rect x="649.16" y="349.3" width="0.9" height="46.9" fill="#0a947c" fill-opacity="0.7"/>
<rect x="648.16" y="356.7" width="2.9" height="23.9" fill="#0a947c"/>
<rect x="652.65" y="353.0" width="0.9" height="7.0" fill="#e4394c" fill-opacity="0.7"/>
<rect x="651.65" y="356.7" width="2.9" height="1.9" fill="#e4394c"/>
<rect x="656.14" y="355.0" width="0.9" height="19.0" fill="#e4394c" fill-opacity="0.7"/>
<rect x="655.14" y="358.6" width="2.9" height="8.8" fill="#e4394c"/>
<rect x="659.63" y="357.6" width="0.9" height="28.4" fill="#e4394c" fill-opacity="0.7"/>
<rect x="658.63" y="367.3" width="2.9" height="1.0" fill="#e4394c"/>
<rect x="663.12" y="364.1" width="0.9" height="11.7" fill="#e4394c" fill-opacity="0.7"/>
<rect x="662.12" y="367.3" width="2.9" height="3.1" fill="#e4394c"/>
<rect x="666.61" y="365.0" width="0.9" height="11.2" fill="#0a947c" fill-opacity="0.7"/>
<rect x="665.61" y="367.8" width="2.9" height="2.6" fill="#0a947c"/>
<rect x="670.11" y="334.4" width="0.9" height="34.6" fill="#0a947c" fill-opacity="0.7"/>
<rect x="669.11" y="338.1" width="2.9" height="29.7" fill="#0a947c"/>
<rect x="673.60" y="336.2" width="0.9" height="23.3" fill="#e4394c" fill-opacity="0.7"/>
<rect x="672.60" y="338.1" width="2.9" height="16.7" fill="#e4394c"/>
<rect x="677.09" y="346.5" width="0.9" height="20.4" fill="#0a947c" fill-opacity="0.7"/>
<rect x="676.09" y="353.0" width="2.9" height="1.0" fill="#0a947c"/>
<rect x="680.58" y="350.2" width="0.9" height="14.8" fill="#0a947c" fill-opacity="0.7"/>
<rect x="679.58" y="351.1" width="2.9" height="1.0" fill="#0a947c"/>
<rect x="684.07" y="350.0" width="0.9" height="12.0" fill="#e4394c" fill-opacity="0.7"/>
<rect x="683.07" y="351.1" width="2.9" height="8.4" fill="#e4394c"/>
<rect x="687.56" y="353.9" width="0.9" height="30.1" fill="#e4394c" fill-opacity="0.7"/>
<rect x="686.56" y="359.5" width="2.9" height="22.8" fill="#e4394c"/>
<rect x="691.06" y="379.7" width="0.9" height="32.6" fill="#e4394c" fill-opacity="0.7"/>
<rect x="690.06" y="382.3" width="2.9" height="20.2" fill="#e4394c"/>
<rect x="694.55" y="350.0" width="0.9" height="66.2" fill="#0a947c" fill-opacity="0.7"/>
<rect x="693.55" y="354.6" width="2.9" height="47.9" fill="#0a947c"/>
<rect x="698.04" y="343.5" width="0.9" height="25.5" fill="#e4394c" fill-opacity="0.7"/>
<rect x="697.04" y="354.6" width="2.9" height="12.7" fill="#e4394c"/>
<rect x="701.53" y="360.0" width="0.9" height="27.5" fill="#e4394c" fill-opacity="0.7"/>
<rect x="700.53" y="367.3" width="2.9" height="16.6" fill="#e4394c"/>
<rect x="705.02" y="380.0" width="0.9" height="23.8" fill="#e4394c" fill-opacity="0.7"/>
<rect x="704.02" y="383.9" width="2.9" height="6.8" fill="#e4394c"/>
<rect x="708.51" y="373.9" width="0.9" height="64.3" fill="#e4394c" fill-opacity="0.7"/>
<rect x="707.51" y="390.0" width="2.9" height="10.8" fill="#e4394c"/>
<rect x="712.01" y="379.0" width="0.9" height="30.8" fill="#0a947c" fill-opacity="0.7"/>
<rect x="711.01" y="383.9" width="2.9" height="16.9" fill="#0a947c"/>
<rect x="715.50" y="374.5" width="0.9" height="18.5" fill="#e4394c" fill-opacity="0.7"/>
<rect x="714.50" y="383.9" width="2.9" height="7.3" fill="#e4394c"/>
<rect x="718.99" y="379.6" width="0.9" height="18.4" fill="#e4394c" fill-opacity="0.7"/>
<rect x="717.99" y="391.2" width="2.9" height="4.6" fill="#e4394c"/>
<rect x="722.48" y="381.8" width="0.9" height="41.2" fill="#e4394c" fill-opacity="0.7"/>
<rect x="721.48" y="395.8" width="2.9" height="13.7" fill="#e4394c"/>
<rect x="725.97" y="385.3" width="0.9" height="25.7" fill="#0a947c" fill-opacity="0.7"/>
<rect x="724.97" y="398.0" width="2.9" height="11.5" fill="#0a947c"/>
<rect x="729.46" y="370.2" width="0.9" height="29.8" fill="#0a947c" fill-opacity="0.7"/>
<rect x="728.46" y="374.0" width="2.9" height="24.0" fill="#0a947c"/>
<rect x="732.96" y="361.6" width="0.9" height="24.9" fill="#0a947c" fill-opacity="0.7"/>
<rect x="731.96" y="371.1" width="2.9" height="2.9" fill="#0a947c"/>
<rect x="736.45" y="364.6" width="0.9" height="13.0" fill="#0a947c" fill-opacity="0.7"/>
<rect x="735.45" y="366.8" width="2.9" height="6.4" fill="#0a947c"/>
<rect x="739.94" y="360.0" width="0.9" height="7.4" fill="#0a947c" fill-opacity="0.7"/>
<rect x="738.94" y="363.7" width="2.9" height="3.1" fill="#0a947c"/>
<rect x="743.43" y="345.1" width="0.9" height="19.9" fill="#0a947c" fill-opacity="0.7"/>
<rect x="742.43" y="348.8" width="2.9" height="14.9" fill="#0a947c"/>
<rect x="746.92" y="333.0" width="0.9" height="17.0" fill="#0a947c" fill-opacity="0.7"/>
<rect x="745.92" y="333.9" width="2.9" height="14.9" fill="#0a947c"/>
<rect x="750.42" y="320.0" width="0.9" height="21.0" fill="#e4394c" fill-opacity="0.7"/>
<rect x="749.42" y="333.9" width="2.9" height="5.6" fill="#e4394c"/>
<rect x="753.91" y="338.5" width="0.9" height="27.5" fill="#e4394c" fill-opacity="0.7"/>
<rect x="752.91" y="339.5" width="2.9" height="25.1" fill="#e4394c"/>
<rect x="757.40" y="361.8" width="0.9" height="16.8" fill="#e4394c" fill-opacity="0.7"/>
<rect x="756.40" y="364.6" width="2.9" height="7.4" fill="#e4394c"/>
<rect x="760.89" y="364.6" width="0.9" height="9.3" fill="#0a947c" fill-opacity="0.7"/>
<rect x="759.89" y="370.0" width="2.9" height="1.3" fill="#0a947c"/>
<rect x="764.38" y="361.5" width="0.9" height="30.5" fill="#e4394c" fill-opacity="0.7"/>
<rect x="763.38" y="370.0" width="2.9" height="20.5" fill="#e4394c"/>
<rect x="767.87" y="382.0" width="0.9" height="20.0" fill="#e4394c" fill-opacity="0.7"/>
<rect x="766.87" y="390.5" width="2.9" height="10.4" fill="#e4394c"/>
<rect x="771.37" y="375.6" width="0.9" height="26.4" fill="#0a947c" fill-opacity="0.7"/>
<rect x="770.37" y="390.2" width="2.9" height="10.7" fill="#0a947c"/>
<rect x="774.86" y="374.5" width="0.9" height="17.5" fill="#0a947c" fill-opacity="0.7"/>
<rect x="773.86" y="378.0" width="2.9" height="12.2" fill="#0a947c"/>
<rect x="778.35" y="352.6" width="0.9" height="28.9" fill="#0a947c" fill-opacity="0.7"/>
<rect x="777.35" y="354.0" width="2.9" height="24.0" fill="#0a947c"/>
<rect x="781.84" y="352.6" width="0.9" height="10.4" fill="#e4394c" fill-opacity="0.7"/>
<rect x="780.84" y="354.0" width="2.9" height="8.2" fill="#e4394c"/>
<rect x="785.33" y="336.3" width="0.9" height="53.0" fill="#e4394c" fill-opacity="0.7"/>
<rect x="784.33" y="362.2" width="2.9" height="17.0" fill="#e4394c"/>
<rect x="788.82" y="357.4" width="0.9" height="23.8" fill="#0a947c" fill-opacity="0.7"/>
<rect x="787.82" y="359.2" width="2.9" height="20.0" fill="#0a947c"/>
<rect x="792.32" y="340.4" width="0.9" height="20.4" fill="#0a947c" fill-opacity="0.7"/>
<rect x="791.32" y="356.1" width="2.9" height="3.1" fill="#0a947c"/>
<rect x="795.81" y="348.9" width="0.9" height="10.1" fill="#e4394c" fill-opacity="0.7"/>
<rect x="794.81" y="356.1" width="2.9" height="1.0" fill="#e4394c"/>
<rect x="799.30" y="352.0" width="0.9" height="18.0" fill="#e4394c" fill-opacity="0.7"/>
<rect x="798.30" y="356.1" width="2.9" height="12.6" fill="#e4394c"/>
<rect x="802.79" y="362.8" width="0.9" height="17.2" fill="#e4394c" fill-opacity="0.7"/>
<rect x="801.79" y="368.4" width="2.9" height="9.9" fill="#e4394c"/>
<rect x="806.28" y="369.1" width="0.9" height="14.4" fill="#e4394c" fill-opacity="0.7"/>
<rect x="805.28" y="378.3" width="2.9" height="3.5" fill="#e4394c"/>
<rect x="809.77" y="374.0" width="0.9" height="17.3" fill="#e4394c" fill-opacity="0.7"/>
<rect x="808.77" y="381.4" width="2.9" height="6.4" fill="#e4394c"/>
<rect x="813.27" y="354.5" width="0.9" height="34.5" fill="#0a947c" fill-opacity="0.7"/>
<rect x="812.27" y="367.8" width="2.9" height="19.7" fill="#0a947c"/>
<rect x="816.76" y="359.0" width="0.9" height="11.0" fill="#0a947c" fill-opacity="0.7"/>
<rect x="815.76" y="364.5" width="2.9" height="3.3" fill="#0a947c"/>
<rect x="820.25" y="356.7" width="0.9" height="9.3" fill="#0a947c" fill-opacity="0.7"/>
<rect x="819.25" y="359.2" width="2.9" height="5.3" fill="#0a947c"/>
<rect x="823.74" y="345.5" width="0.9" height="15.5" fill="#0a947c" fill-opacity="0.7"/>
<rect x="822.74" y="346.6" width="2.9" height="12.6" fill="#0a947c"/>
<rect x="827.23" y="308.8" width="0.9" height="41.7" fill="#0a947c" fill-opacity="0.7"/>
<rect x="826.23" y="318.3" width="2.9" height="28.3" fill="#0a947c"/>
<rect x="830.72" y="312.0" width="0.9" height="27.5" fill="#e4394c" fill-opacity="0.7"/>
<rect x="829.72" y="318.8" width="2.9" height="8.7" fill="#e4394c"/>
<rect x="834.22" y="284.1" width="0.9" height="44.9" fill="#0a947c" fill-opacity="0.7"/>
<rect x="833.22" y="286.3" width="2.9" height="41.2" fill="#0a947c"/>
<rect x="837.71" y="247.2" width="0.9" height="52.7" fill="#0a947c" fill-opacity="0.7"/>
<rect x="836.71" y="267.8" width="2.9" height="18.5" fill="#0a947c"/>
<rect x="841.20" y="257.3" width="0.9" height="18.2" fill="#0a947c" fill-opacity="0.7"/>
<rect x="840.20" y="262.4" width="2.9" height="5.4" fill="#0a947c"/>
<rect x="844.69" y="246.9" width="0.9" height="17.1" fill="#0a947c" fill-opacity="0.7"/>
<rect x="843.69" y="257.0" width="2.9" height="5.4" fill="#0a947c"/>
<rect x="848.18" y="216.0" width="0.9" height="43.6" fill="#0a947c" fill-opacity="0.7"/>
<rect x="847.18" y="218.8" width="2.9" height="38.1" fill="#0a947c"/>
</g>
<line x1="216.02" y1="143.60" x2="821.85" y2="316.75" stroke="#4a67d0" stroke-width="1.9" stroke-dasharray="1.9 3.166"/>
<line x1="161.35" y1="446.28" x2="830.37" y2="390.01" stroke="#1e222d" stroke-width="1.9" stroke-dasharray="1.9 3.172"/>
<text x="12.6" y="31.7" font-size="8.2" fill="#131722" textLength="126.6" lengthAdjust="spacingAndGlyphs">Dogecoin / TetherUS · 4h · Binance</text>
<text x="145.1" y="31.7" font-size="8.2" fill="#131722">O</text>
<text x="150.7" y="31.7" font-size="8.2" fill="#2a9d8f" textLength="28.0" lengthAdjust="spacingAndGlyphs">0.23336</text>
<text x="183.7" y="31.7" font-size="8.2" fill="#131722">H</text>
<text x="189.5" y="31.7" font-size="8.2" fill="#2a9d8f" textLength="27.5" lengthAdjust="spacingAndGlyphs">0.23986</text>
<text x="222.5" y="31.7" font-size="8.2" fill="#131722">L</text>
<text x="227.8" y="31.7" font-size="8.2" fill="#2a9d8f" textLength="27.0" lengthAdjust="spacingAndGlyphs">0.23293</text>
<text x="260.0" y="31.7" font-size="8.2" fill="#131722">C</text>
<text x="265.7" y="31.7" font-size="8.2" fill="#2a9d8f" textLength="27.0" lengthAdjust="spacingAndGlyphs">0.23944</text>
<text x="298.1" y="31.7" font-size="8.2" fill="#2a9d8f" textLength="64.9" lengthAdjust="spacingAndGlyphs">+0.00607 (+2.60%)</text>
<text x="12.6" y="43.4" font-size="8.2" fill="#131722" textLength="66.3" lengthAdjust="spacingAndGlyphs">MA Cross (50, 200)</text>
<text x="83.8" y="43.4" font-size="8.2" fill="#f7a21b" textLength="28.9" lengthAdjust="spacingAndGlyphs">0.21733</text>
<text x="117.8" y="43.4" font-size="8.2" fill="#1cb5c9" textLength="27.5" lengthAdjust="spacingAndGlyphs">0.22301</text>
<text x="151.2" y="43.4" font-size="8.2" fill="#131722">ø</text>
<line x1="7" y1="25.5" x2="972.5" y2="25.5" stroke="#4466c6" stroke-width="1.9"/>
<line x1="7" y1="124.0" x2="972.5" y2="124.0" stroke="#4466c6" stroke-width="1.9"/>
<line x1="7" y1="470.05" x2="972.5" y2="470.05" stroke="#4466c6" stroke-width="1.9"/>
<line x1="850" y1="218.8" x2="928" y2="218.8" stroke="#0a947c" stroke-width="0.9" stroke-dasharray="1 1.5" opacity="0.7"/>
<line x1="6.5" y1="218.8" x2="850" y2="218.8" stroke="#0a947c" stroke-width="0.9" stroke-dasharray="1 1.5" opacity="0.45"/>
<circle cx="848.4" cy="470" r="6.3" fill="#fff" stroke="#7540b8" stroke-width="1.2"/>
<path d="M850.4 466.3 L846.9 470.7 L849.9 470.1 L846.5 474.1" fill="none" stroke="#9c27b0" stroke-width="1.1" stroke-linejoin="round"/>
<circle cx="853.1" cy="465.2" r="1.9" fill="#d9363e"/>
<text x="333.9" y="83.9" font-size="11.6" font-style="italic" fill="#1e222d" stroke="#1e222d" stroke-width="0.5" textLength="122.4" lengthAdjust="spacing">Symmetrical Triangle</text>
<text x="784.6" y="411.6" font-size="11.6" font-style="italic" fill="#1e222d" stroke="#1e222d" stroke-width="0.5" textLength="136.2" lengthAdjust="spacing">Impending Golden Cross</text>
<text x="978.8" y="440.2" font-size="8.2" fill="#131722" textLength="28.2" lengthAdjust="spacingAndGlyphs">0.20500</text>
<text x="978.8" y="408.5" font-size="8.2" fill="#131722" textLength="28.2" lengthAdjust="spacingAndGlyphs">0.21000</text>
<text x="978.8" y="376.8" font-size="8.2" fill="#131722" textLength="28.2" lengthAdjust="spacingAndGlyphs">0.21500</text>
<text x="978.8" y="345.1" font-size="8.2" fill="#131722" textLength="28.2" lengthAdjust="spacingAndGlyphs">0.22000</text>
<text x="978.8" y="313.4" font-size="8.2" fill="#131722" textLength="28.2" lengthAdjust="spacingAndGlyphs">0.22500</text>
<text x="978.8" y="281.7" font-size="8.2" fill="#131722" textLength="28.2" lengthAdjust="spacingAndGlyphs">0.23000</text>
<text x="978.8" y="250.0" font-size="8.2" fill="#131722" textLength="28.2" lengthAdjust="spacingAndGlyphs">0.23500</text>
<text x="978.8" y="218.3" font-size="8.2" fill="#131722" textLength="28.2" lengthAdjust="spacingAndGlyphs">0.24000</text>
<text x="978.8" y="186.7" font-size="8.2" fill="#131722" textLength="28.2" lengthAdjust="spacingAndGlyphs">0.24500</text>
<text x="978.8" y="155.0" font-size="8.2" fill="#131722" textLength="28.2" lengthAdjust="spacingAndGlyphs">0.25000</text>
<text x="978.8" y="123.3" font-size="8.2" fill="#131722" textLength="28.2" lengthAdjust="spacingAndGlyphs">0.25500</text>
<text x="978.8" y="91.6" font-size="8.2" fill="#131722" textLength="28.2" lengthAdjust="spacingAndGlyphs">0.26000</text>
<text x="978.8" y="59.9" font-size="8.2" fill="#131722" textLength="28.2" lengthAdjust="spacingAndGlyphs">0.26500</text>
<rect x="975.7" y="21" width="39.7" height="17" rx="2.5" fill="#fff" stroke="#e0e3eb" stroke-width="0.8"/>
<text x="981.7" y="32.9" font-size="8.4" font-weight="bold" fill="#4a4e59" textLength="18.4" lengthAdjust="spacingAndGlyphs">USDT</text>
<rect x="973.2" y="118.1" width="38.2" height="11.6" rx="1.5" fill="#2962ff"/>
<text x="978.8" y="126.8" font-size="8.2" fill="#fff" textLength="28.2" lengthAdjust="spacingAndGlyphs">0.25442</text>
<rect x="973.2" y="464.1" width="38.2" height="11.6" rx="1.5" fill="#2962ff"/>
<text x="978.8" y="472.8" font-size="8.2" fill="#fff" textLength="28.2" lengthAdjust="spacingAndGlyphs">0.19984</text>
<rect x="973.2" y="317.4" width="38.2" height="11.6" rx="1.5" fill="#1cb5c9"/>
<text x="978.8" y="326.1" font-size="8.2" fill="#131722" textLength="28.2" lengthAdjust="spacingAndGlyphs">0.22301</text>
<rect x="973.2" y="334.4" width="38.2" height="11.6" rx="1.5" fill="#2962ff"/>
<text x="978.8" y="343.1" font-size="8.2" fill="#fff" textLength="28.2" lengthAdjust="spacingAndGlyphs">0.22032</text>
<rect x="973.2" y="353.2" width="38.2" height="11.6" rx="1.5" fill="#ff9800"/>
<text x="978.8" y="361.9" font-size="8.2" fill="#131722" textLength="28.2" lengthAdjust="spacingAndGlyphs">0.21733</text>
<rect x="928.1" y="213.6" width="44.2" height="11.2" rx="1.5" fill="#0a947c"/>
<text x="930.7" y="222.4" font-size="8.2" font-weight="bold" fill="#fff" textLength="38.5" lengthAdjust="spacingAndGlyphs">DOGEUSDT</text>
<rect x="973.3" y="213.3" width="40.3" height="21.1" rx="1.5" fill="#0a947c"/>
<text x="978.9" y="222.1" font-size="8.2" fill="#fff" textLength="28.4" lengthAdjust="spacingAndGlyphs">0.23944</text>
<text x="978.9" y="232.3" font-size="8.2" fill="#fff" textLength="31.5" lengthAdjust="spacingAndGlyphs">02:39:44</text>
<text x="41.4" y="491.6" font-size="8.2" font-weight="bold" fill="#131722" text-anchor="middle">Aug</text>
<text x="83.3" y="491.6" font-size="8.2" fill="#131722" text-anchor="middle">3</text>
<text x="125.3" y="491.6" font-size="8.2" fill="#131722" text-anchor="middle">5</text>
<text x="167.1" y="491.6" font-size="8.2" fill="#131722" text-anchor="middle">7</text>
<text x="209.0" y="491.6" font-size="8.2" fill="#131722" text-anchor="middle">9</text>
<text x="250.9" y="491.6" font-size="8.2" fill="#131722" text-anchor="middle">11</text>
<text x="292.8" y="491.6" font-size="8.2" fill="#131722" text-anchor="middle">13</text>
<text x="334.7" y="491.6" font-size="8.2" fill="#131722" text-anchor="middle">15</text>
<text x="376.6" y="491.6" font-size="8.2" fill="#131722" text-anchor="middle">17</text>
<text x="418.5" y="491.6" font-size="8.2" fill="#131722" text-anchor="middle">19</text>
<text x="460.4" y="491.6" font-size="8.2" fill="#131722" text-anchor="middle">21</text>
<text x="502.3" y="491.6" font-size="8.2" fill="#131722" text-anchor="middle">23</text>
<text x="544.2" y="491.6" font-size="8.2" fill="#131722" text-anchor="middle">25</text>
<text x="586.1" y="491.6" font-size="8.2" fill="#131722" text-anchor="middle">27</text>
<text x="628.0" y="491.6" font-size="8.2" fill="#131722" text-anchor="middle">29</text>
<text x="690.8" y="491.6" font-size="8.2" font-weight="bold" fill="#131722" text-anchor="middle">Sep</text>
<text x="732.7" y="491.6" font-size="8.2" fill="#131722" text-anchor="middle">3</text>
<text x="774.6" y="491.6" font-size="8.2" fill="#131722" text-anchor="middle">5</text>
<text x="816.6" y="491.6" font-size="8.2" fill="#131722" text-anchor="middle">7</text>
<text x="858.5" y="491.6" font-size="8.2" fill="#131722" text-anchor="middle">9</text>
<text x="900.4" y="491.6" font-size="8.2" fill="#131722" text-anchor="middle">11</text>
<text x="942.3" y="491.6" font-size="8.2" fill="#131722" text-anchor="middle">13</text>
<g transform="translate(8.2,512) scale(0.54)" fill="#131722"><path d="M14 19H7V8H0V1h14v18zM28 19h-8l7.5-18h8L28 19z"/><circle cx="20" cy="5" r="4"/></g>
<text x="33.6" y="522" font-size="13" font-weight="bold" fill="#131722" textLength="80" lengthAdjust="spacingAndGlyphs">TradingView</text>
</svg>
</body></html>
